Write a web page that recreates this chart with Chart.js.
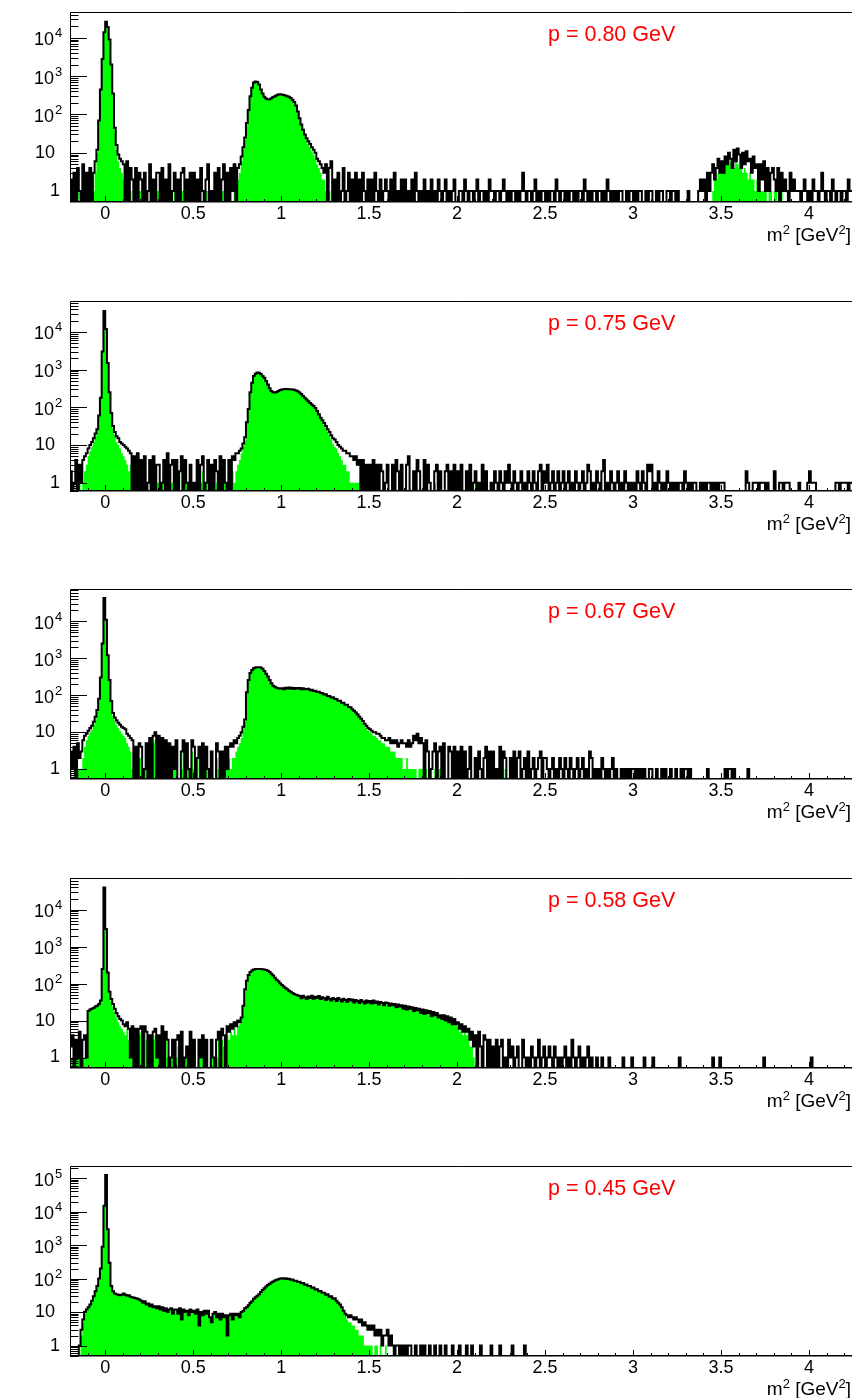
<!DOCTYPE html>
<html>
<head>
<meta charset="utf-8">
<title>m2 spectra</title>
<script src="https://cdn.jsdelivr.net/npm/chart.js@4.4.1/dist/chart.umd.min.js"></script>
<style>
  html, body { margin: 0; padding: 0; background: #fff; overflow: hidden; }
  #wrap { position: relative; width: 852px; height: 1398px; overflow: hidden; background: #fff; }
  .pad { position: absolute; left: 0; width: 853px; height: 288px; }
  .pad canvas { display: block; }
</style>
</head>
<body>
<div id="wrap"></div>
<script>
// all histograms share one binning: 445 bins of 0.01 GeV^2 starting at -0.2
const binLow = -0.2;
const binWidth = 0.01;
const nBins = 445;

const momentumLabels = ['p = 0.80 GeV', 'p = 0.75 GeV', 'p = 0.67 GeV', 'p = 0.58 GeV', 'p = 0.45 GeV'];
const xTickLabels = ['0', '0.5', '1', '1.5', '2', '2.5', '3', '3.5', '4'];
const yTickPowers = [0, 1, 2, 3, 4, 5];
const yRangeMin = [0.52, 0.6, 0.54, 0.52, 0.49];
const yRangeMax = [47000, 66000, 75000, 72000, 230000];

// counts per bin, all tracks (black outline); missing trailing bins are empty
const allP080 = [
  2,0,3,0,4,1,0,5,0,3,
  0,4,0,3,6,12,70,450,2800,14000,
  26000,19000,9000,2000,350,45,16,9,7,6,
  5,0,6,0,4,2,0,4,0,3,
  2,0,3,0,1,5,0,2,0,3,
  3,0,4,0,2,0,5,0,1,3,
  0,2,0,3,4,0,2,0,3,0,
  3,0,2,0,4,1,0,2,5,0,
  1,0,3,0,4,0,2,5,0,3,
  0,4,1,5,0,4,5,8,14,25,
  60,130,300,500,680,720,700,600,450,350,
  290,260,250,250,265,285,300,315,330,335,
  330,320,310,300,290,270,240,210,170,120,
  80,55,40,30,24,20,17,14,12,10,
  7,6,5,4,3,5,0,4,6,0,
  2,0,3,0,1,4,0,1,3,0,
  2,0,3,0,2,0,3,1,0,2,
  0,2,0,3,1,0,2,0,1,2,
  1,0,2,0,3,0,1,0,2,0,
  2,0,1,0,2,0,3,1,0,1,
  0,2,0,1,0,2,0,1,0,2,
  1,0,1,2,0,1,0,1,2,0,
  0,1,1,0,2,1,0,1,1,0,
  1,2,0,1,1,0,1,0,2,1,
  1,0,1,1,0,1,2,1,0,1,
  0,1,1,0,1,0,1,3,1,0,
  1,1,0,1,2,0,1,0,1,1,
  0,1,0,1,1,0,2,1,0,1,
  1,0,1,0,1,1,0,1,0,1,
  1,0,2,1,0,1,0,1,1,0,
  1,1,0,1,0,2,1,0,1,0,
  1,0,1,1,0,0,1,0,1,1,
  0,1,0,1,1,0,0,1,0,1,
  1,0,0,1,0,1,1,0,0,1,
  1,0,1,1,0,1,0,0,0,0,
  0,1,0,0,0,0,0,1,2,1,
  2,0,3,1,3,5,2,4,7,3,
  6,3,8,5,10,7,4,12,6,13,
  9,4,10,5,11,6,7,3,8,4,
  5,1,5,2,6,1,4,1,3,4,
  2,1,4,0,3,1,2,1,0,3,
  1,2,1,1,1,0,1,2,1,0,
  1,0,2,1,1,0,1,3,1,0,
  1,1,0,2,1,0,1,1,0,1,
  1,0,2,1,1
];
// counts per bin, selected tracks (green fill)
const selP080 = [
  1,0,1,0,1,0,0,2,0,1,
  0,1,0,1,3,10,65,440,2800,14000,
  26000,19000,9000,2000,340,40,12,6,4,3,
  2,0,2,0,1,0,0,1,0,1,
  1,0,1,0,0,1,0,1,0,1,
  1,0,1,0,1,0,1,0,0,1,
  0,1,0,1,1,0,1,0,1,0,
  1,0,1,0,1,0,0,1,1,0,
  0,0,1,0,1,0,1,1,0,1,
  0,1,0,1,0,2,3,6,12,22,
  55,125,295,495,680,720,700,600,450,350,
  290,260,250,250,265,285,300,315,330,335,
  330,320,310,300,290,270,240,210,170,120,
  78,52,37,27,21,17,14,11,9,7,
  5,4,3,2,2,1,0,1,0,0,
  0,0,1,0,0,0,0,0,0,0,
  0,0,0,0,0,0,0,0,0,0,
  0,0,0,0,0,0,0,0,0,0,
  0,0,0,0,0,0,0,0,0,0,
  0,0,0,0,0,0,0,0,0,0,
  0,0,0,0,0,0,0,0,0,0,
  0,0,0,0,0,0,0,0,0,0,
  0,0,0,0,0,0,0,0,0,0,
  0,0,0,0,0,0,0,0,0,0,
  0,0,0,0,0,0,0,0,0,0,
  0,0,0,0,0,0,0,0,0,0,
  0,0,0,0,0,0,0,0,0,0,
  0,0,0,0,0,0,0,0,0,0,
  0,0,0,0,0,0,0,0,0,0,
  0,0,0,0,0,0,0,0,0,0,
  0,0,0,0,0,0,0,0,0,0,
  0,0,0,0,0,0,0,0,0,0,
  0,0,0,0,0,0,0,0,0,0,
  0,0,0,0,0,0,0,0,0,0,
  0,0,0,0,0,0,0,0,0,0,
  0,0,0,0,0,0,0,0,0,0,
  0,0,0,0,0,1,2,2,3,3,
  4,3,6,5,7,6,4,4,6,5,
  4,4,3,4,3,2,3,2,2,1,
  2,1,1,1,1,1,0,1,1,0,
  1,1,0,0,1
];

const allP075 = [
  2,0,1,4,0,3,1,4,5,6,
  8,10,12,15,20,26,60,180,3000,36000,
  12000,1500,250,70,32,22,17,15,12,11,
  10,9,8,7,6,0,5,0,6,0,
  4,0,5,0,1,4,0,5,0,3,
  3,0,1,4,0,6,0,3,4,0,
  4,0,2,5,0,4,1,0,3,0,
  1,0,4,0,3,5,0,1,4,0,
  3,0,4,2,0,5,0,4,1,0,
  4,0,5,4,6,6,7,8,11,16,
  40,90,250,450,680,780,830,820,760,680,
  610,500,400,320,270,250,245,255,270,285,
  295,300,305,305,300,300,295,290,280,265,
  245,225,200,180,160,145,130,118,108,95,
  80,65,53,45,38,32,26,22,18,15,
  14,12,10,9,8,7,7,6,6,5,
  5,4,5,3,4,0,4,0,3,0,
  3,0,4,0,3,0,3,2,0,1,
  3,0,0,3,0,4,2,0,3,0,
  0,3,5,0,0,2,0,4,2,0,
  0,4,0,3,1,0,0,2,3,0,
  2,0,0,2,3,0,2,0,3,0,
  2,0,3,0,0,2,0,3,0,1,
  2,0,1,0,3,0,2,0,0,1,
  0,2,1,0,2,1,0,2,1,3,
  1,0,2,1,0,1,2,0,1,0,
  2,1,0,2,1,0,2,3,0,2,
  1,3,0,1,2,0,1,2,0,1,
  2,0,1,2,0,1,0,2,1,0,
  1,2,0,1,3,2,0,1,0,2,
  1,0,2,4,0,1,0,2,1,0,
  1,2,0,1,0,2,1,0,1,0,
  1,0,2,1,0,2,1,0,3,2,
  3,0,1,0,2,1,0,1,0,2,
  1,0,1,0,1,0,1,1,0,2,
  1,0,1,0,1,1,0,0,1,0,
  1,0,1,1,0,1,0,1,0,1,
  1,1,0,0,0,0,0,0,0,0,
  0,0,0,0,2,1,0,0,1,1,
  1,0,1,1,1,0,1,0,0,0,
  2,0,0,1,1,0,1,1,1,0,
  0,0,0,0,1,0,0,0,0,1,
  2,1,1,1,0,0,0,0,0,0,
  0,0,0,0,0,1,1,0,1,1,
  1,1,0,1,1
];
const selP075 = [
  0,0,0,1,0,1,0,1,2,3,
  5,7,9,12,17,24,58,175,3000,36000,
  12000,1500,245,65,28,18,12,10,8,6,
  5,4,3,2,3,0,2,0,2,0,
  1,0,2,0,0,1,0,2,0,1,
  1,0,1,1,0,2,0,1,1,0,
  1,0,0,2,0,1,1,0,1,0,
  1,0,1,0,1,2,0,1,1,0,
  1,0,2,1,0,1,0,1,1,0,
  1,0,2,1,2,3,4,6,9,13,
  38,88,250,450,680,780,830,820,760,680,
  610,500,400,320,270,250,245,255,270,285,
  295,300,305,305,300,300,295,290,280,265,
  245,225,200,180,160,145,130,118,108,95,
  78,63,50,42,34,28,22,18,14,11,
  9,8,6,5,4,3,3,2,2,1,
  1,1,1,1,1,0,1,0,0,0,
  1,0,0,0,0,0,0,0,0,0,
  0,0,0,0,0,0,0,0,0,0,
  0,0,0,0,0,1,0,0,0,0,
  0,0,0,0,0,0,0,1,0,0,
  0,0,0,0,0,0,1,0,0,0,
  0,0,0,0,0,0,0,0,0,0,
  1
];

const allP067 = [
  3,1,4,0,5,2,3,6,8,9,
  11,13,15,19,26,40,80,300,2500,43000,
  11000,1200,260,70,33,25,21,18,16,14,
  13,12,9,8,7,6,0,4,0,5,
  4,0,1,5,0,7,0,8,10,0,
  8,0,7,0,6,0,5,0,4,1,
  6,0,0,3,6,0,5,1,0,6,
  4,0,2,4,0,5,0,4,1,0,
  3,0,0,5,3,0,3,0,4,1,
  4,5,4,6,5,7,8,10,14,22,
  120,260,400,480,540,560,570,570,560,520,
  450,380,320,260,210,180,170,160,155,152,
  155,146,160,152,163,150,160,148,158,152,
  157,146,154,144,147,150,137,140,131,132,
  122,124,114,113,104,107,95,96,87,88,
  80,79,71,71,63,63,55,55,48,47,
  42,38,34,30,26,23,20,17,15,13,
  12,11,10,10,9,9,8,7,7,6,
  6,7,5,6,5,6,4,5,6,5,
  5,4,6,4,5,8,6,9,5,7,
  5,0,6,3,0,1,3,5,0,3,
  4,0,5,0,0,4,3,0,4,0,
  3,0,4,0,3,0,1,4,0,0,
  2,0,3,1,0,2,4,0,3,0,
  3,0,1,0,4,0,3,2,0,0,
  2,0,3,0,2,3,0,1,2,0,
  3,0,1,2,0,1,2,3,0,2,
  2,1,0,1,2,0,1,0,2,1,
  0,2,1,0,2,1,0,1,2,0,
  1,2,0,1,0,3,2,0,1,0,
  1,0,2,1,0,1,0,1,2,0,
  1,0,0,1,0,1,0,1,0,1,
  1,0,1,0,1,0,1,0,0,1,
  1,0,0,1,0,0,1,0,1,0,
  0,1,0,0,1,0,0,1,0,1,
  1,0,1,0,0,0,0,0,0,0,
  0,0,1,0,0,0,0,0,0,0,
  0,0,1,0,1,1,0,1,0,0,
  0,0,0,0,0,1
];
const selP067 = [
  1,0,1,0,1,1,1,2,4,6,
  8,10,12,16,22,36,75,290,2500,43000,
  11000,1200,255,65,28,20,16,13,11,9,
  8,7,5,4,3,1,0,1,0,2,
  2,0,1,3,0,4,0,5,6,0,
  4,0,4,0,3,0,3,0,1,1,
  3,0,0,1,3,0,2,1,0,3,
  1,0,0,2,0,2,0,2,1,0,
  1,0,0,2,1,0,1,0,1,1,
  2,1,2,2,3,4,5,7,10,19,
  120,260,400,480,540,560,570,570,560,520,
  450,380,320,260,210,180,170,160,155,152,
  155,146,160,152,163,150,160,148,158,152,
  157,146,154,144,147,150,137,140,131,132,
  122,124,114,113,104,107,95,96,87,88,
  80,79,71,71,63,63,55,55,48,47,
  40,36,32,28,24,21,18,15,13,11,
  10,9,8,8,7,6,6,5,5,4,
  4,4,3,3,3,2,2,2,2,1,
  1,2,1,1,1,1,1,0,1,1,
  1,0,1,0,0,0,0,1,0,1,
  1,0,0,0,0,0,0,0,0,0,
  0,0,0,0,0,0,0,0,0,0,
  0,0,0,0,0,0,0,0,0,0,
  0,0,0,0,0,0,0,1
];

const allP058 = [
  2,4,0,3,1,5,0,3,4,1,
  18,20,21,22,24,25,28,35,250,40000,
  3000,200,60,38,28,21,16,13,11,10,
  8,7,9,6,1,7,0,6,0,6,
  7,0,7,5,0,4,0,5,6,1,
  4,0,7,0,5,3,0,1,3,0,
  3,4,0,5,0,1,2,0,5,0,
  3,0,0,3,1,4,0,3,0,0,
  3,1,0,3,5,0,6,4,0,7,
  5,8,6,9,7,10,9,12,25,70,
  120,170,205,225,240,248,250,250,248,245,
  240,232,222,205,185,165,145,128,115,102,
  92,84,76,70,64,60,56,52,50,48,
  46,40,47,43,38,45,41,47,39,44,
  41,46,38,43,40,36,44,39,35,41,
  38,34,41,37,33,39,36,32,38,35,
  37,31,36,34,30,36,33,29,35,31,
  34,29,35,30,33,27,32,30,26,31,
  30,25,29,26,28,23,27,24,26,21,
  25,20,24,21,23,18,22,19,21,16,
  20,15,19,16,18,13,17,14,16,12,
  14,11,14,10,13,9,12,8,11,8,
  9,6,8,5,7,5,6,3,5,2,
  4,0,5,2,0,4,3,0,3,0,
  2,0,3,0,2,3,0,1,0,3,
  1,2,0,1,2,0,0,3,1,0,
  1,0,2,1,0,1,3,0,1,2,
  0,1,2,1,0,2,1,0,1,0,
  1,2,0,1,0,3,1,0,1,2,
  0,1,0,1,2,0,1,0,0,1,
  0,0,1,0,0,0,1,0,0,0,
  0,0,0,0,1,0,0,0,0,1,
  0,0,0,0,0,0,1,0,0,0,
  0,1,0,0,0,0,0,0,0,0,
  0,0,0,0,0,0,1,0,0,0,
  0,0,0,0,0,0,0,0,0,0,
  0,0,0,0,0,1,0,0,0,1,
  0,0,0,0,0,0,0,0,0,0,
  0,0,0,0,0,0,0,0,0,0,
  0,0,0,0,1,0,0,0,0,0,
  0,0,0,0,0,0,0,0,0,0,
  0,0,0,0,0,0,0,0,0,0,
  0,1
];
const selP058 = [
  1,1,0,1,1,2,0,1,1,1,
  18,20,21,22,24,25,28,35,250,40000,
  3000,200,58,34,24,17,12,9,7,6,
  5,4,6,3,1,5,0,4,0,4,
  5,0,5,3,0,2,0,3,4,1,
  2,0,4,0,3,1,0,1,1,0,
  1,2,0,3,0,1,1,0,3,0,
  1,0,0,1,1,2,0,1,0,0,
  1,1,0,1,3,0,3,2,0,4,
  3,5,4,6,4,7,8,11,24,68,
  120,170,205,225,240,248,250,250,248,245,
  240,232,222,205,185,165,145,128,115,102,
  92,84,76,70,64,60,56,52,50,48,
  46,40,47,43,38,45,41,47,39,44,
  41,46,38,43,40,36,44,39,35,41,
  38,34,41,37,33,39,36,32,38,35,
  37,31,36,34,30,36,33,29,35,31,
  34,29,35,30,33,27,32,30,26,31,
  30,25,29,26,28,23,27,24,26,21,
  25,20,24,21,23,18,22,19,21,16,
  20,15,19,16,18,13,17,14,16,12,
  14,11,14,10,13,9,12,8,11,8,
  7,5,7,4,6,4,5,2,2,1
];

const allP045 = [
  0,0,0,0,0,1,3,6,10,12,
  14,17,22,30,42,60,100,200,900,15000,
  123000,3000,300,60,42,36,34,33,32,33,
  36,33,31,32,29,28,27,26,25,24,
  22,19,21,17,18,15,17,14,15,13,
  15,12,14,11,13,10,12,13,9,12,
  12,9,13,6,12,10,11,8,12,10,
  11,9,12,4,10,8,11,9,11,7,
  5,9,10,7,9,6,9,7,8,2,
  8,9,6,9,8,9,7,10,11,13,
  14,16,19,21,25,28,31,34,40,46,
  52,58,64,70,76,82,88,92,96,100,
  103,99,102,97,99,93,94,86,87,80,
  80,73,74,66,67,60,60,53,54,47,
  48,42,43,38,38,33,34,29,30,25,
  26,22,19,17,14,11,9,8,7,8,
  7,6,7,6,5,6,4,5,4,3,
  4,3,4,2,3,2,3,1,2,2,
  3,1,2,1,0,1,1,0,1,0,
  1,0,1,1,0,0,1,0,0,1,
  0,1,0,0,1,0,0,1,0,0,
  1,0,0,1,0,0,0,1,0,0,
  0,1,0,0,0,1,0,0,1,0,
  0,0,0,1,0,0,0,0,0,1,
  0,0,0,0,1,0,0,0,0,0,
  0,1,0,0,0,0,0,0,1,0
];
const selP045 = [
  0,0,0,0,0,0,2,5,9,11,
  13,16,21,29,41,58,98,198,900,15000,
  123000,3000,298,58,40,34,32,31,30,31,
  36,33,31,32,29,28,27,26,25,24,
  22,19,21,17,18,15,17,14,15,13,
  15,12,14,11,13,10,12,13,9,12,
  12,9,13,6,12,10,11,8,12,10,
  11,9,12,4,10,8,11,9,11,7,
  5,9,10,7,9,6,9,7,8,2,
  8,9,6,9,8,9,7,10,11,13,
  14,16,19,21,25,28,31,34,40,46,
  52,58,64,70,76,82,88,92,96,100,
  103,99,102,97,99,93,94,86,87,80,
  80,73,74,66,67,60,60,53,54,47,
  48,42,43,38,38,33,34,29,30,25,
  25,21,18,16,13,10,8,6,5,5,
  4,4,3,3,2,2,2,1,1,1,
  1,1,0,1,1,0,1,0,0,1
];

const allCounts = [allP080, allP075, allP067, allP058, allP045];
const selCounts = [selP080, selP075, selP067, selP058, selP045];

const FONT = '"Liberation Sans", Arial, Helvetica, sans-serif';
const LABEL_FONT = '18px ' + FONT;
const SUP_FONT = '13px ' + FONT;
const TITLE_FONT = '19px ' + FONT;

// step points at the bin edges; empty bins sit on the axis floor
function histPoints(counts, floor) {
  const pts = [];
  for (let i = 0; i < nBins; i++) {
    const c = i < counts.length ? counts[i] : 0;
    pts.push({ x: binLow + i * binWidth, y: Math.max(c, floor) });
  }
  pts.push({ x: binLow + nBins * binWidth, y: pts[nBins - 1].y });
  return pts;
}

// ROOT-like frame: inward ticks, log labels with exponents, axis title and momentum tag
const rootAxes = {
  id: 'rootAxes',
  afterDatasetsDraw(chart, args, opts) {
    const ctx = chart.ctx;
    const a = chart.chartArea;
    const xs = chart.scales.x;
    const ys = chart.scales.y;
    ctx.save();
    ctx.strokeStyle = '#000';
    ctx.lineWidth = 1;
    ctx.beginPath();
    ctx.moveTo(a.left + 0.5, a.bottom);
    ctx.lineTo(a.left + 0.5, a.top + 0.5);
    ctx.lineTo(a.right, a.top + 0.5);
    ctx.stroke();
    ctx.lineWidth = 1.5;
    ctx.beginPath();
    ctx.moveTo(a.left, a.bottom - 0.25);
    ctx.lineTo(a.right, a.bottom - 0.25);
    ctx.stroke();

    ctx.lineWidth = 1;
    ctx.beginPath();
    for (let k = -1; k <= 42; k++) {
      const px = Math.round(xs.getPixelForValue(k / 10)) + 0.5;
      const len = k % 5 === 0 ? 6 : 3;
      ctx.moveTo(px, a.bottom);
      ctx.lineTo(px, a.bottom - len);
    }
    const d0 = Math.floor(Math.log10(ys.min));
    const d1 = Math.ceil(Math.log10(ys.max));
    for (let d = d0; d <= d1; d++) {
      for (let m = 1; m <= 9; m++) {
        const v = m * Math.pow(10, d);
        if (v < ys.min || v > ys.max) continue;
        const py = Math.round(ys.getPixelForValue(v)) + 0.5;
        ctx.moveTo(a.left, py);
        ctx.lineTo(a.left + (m === 1 ? 17 : 8.5), py);
      }
    }
    ctx.stroke();

    ctx.fillStyle = '#000';
    ctx.textBaseline = 'middle';
    ctx.font = LABEL_FONT;
    ctx.textAlign = 'center';
    xTickLabels.forEach(t => {
      ctx.fillText(t, xs.getPixelForValue(parseFloat(t)), a.bottom + 12);
    });

    yTickPowers.forEach(p => {
      const v = Math.pow(10, p);
      if (v > ys.max) return;
      const py = ys.getPixelForValue(v);
      ctx.font = LABEL_FONT;
      ctx.textAlign = 'right';
      if (p === 0) {
        ctx.fillText('1', 60, py);
      } else if (p === 1) {
        ctx.fillText('10', 55, py);
      } else {
        ctx.fillText('10', 54, py + 2.5);
        ctx.font = SUP_FONT;
        ctx.textAlign = 'left';
        ctx.fillText(String(p), 55, py - 4);
      }
    });

    // axis title  m^2 [GeV^2], right aligned
    const parts = [['m', false], ['2', true], [' [GeV', false], ['2', true], [']', false]];
    let total = 0;
    parts.forEach(([s, sup]) => {
      ctx.font = sup ? SUP_FONT : TITLE_FONT;
      total += ctx.measureText(s).width;
    });
    let tx = 851 - total;
    ctx.textAlign = 'left';
    parts.forEach(([s, sup]) => {
      ctx.font = sup ? SUP_FONT : TITLE_FONT;
      ctx.fillText(s, tx, a.bottom + (sup ? 28 : 34));
      tx += ctx.measureText(s).width;
    });

    ctx.fillStyle = '#ff0000';
    ctx.font = '21.5px ' + FONT;
    ctx.textBaseline = 'alphabetic';
    ctx.fillText(opts.label, 548, a.top + 29);
    ctx.restore();
  }
};

const wrap = document.getElementById('wrap');
momentumLabels.forEach((label, p) => {
  const pad = document.createElement('div');
  pad.className = 'pad';
  pad.style.top = Math.round(288.5 * p) + 'px';
  const canvas = document.createElement('canvas');
  canvas.width = 853;
  canvas.height = 288;
  pad.appendChild(canvas);
  wrap.appendChild(pad);

  const floor = yRangeMin[p];
  new Chart(canvas.getContext('2d'), {
    type: 'line',
    data: {
      datasets: [{
        label: 'all',
        data: histPoints(allCounts[p], floor),
        stepped: true,
        fill: false,
        borderColor: '#000000',
        borderWidth: 2,
        pointRadius: 0,
        order: 0
      }, {
        label: 'selected',
        data: histPoints(selCounts[p], floor),
        stepped: true,
        fill: 'start',
        backgroundColor: '#00ff00',
        borderColor: 'rgba(0,0,0,0)',
        borderWidth: 0,
        pointRadius: 0,
        order: 1
      }]
    },
    options: {
      responsive: false,
      animation: false,
      devicePixelRatio: 1,
      events: [],
      parsing: false,
      layout: { padding: { left: 70, top: 12, right: 0, bottom: 86 } },
      scales: {
        x: { type: 'linear', min: -0.2, max: 4.25, display: false },
        y: { type: 'logarithmic', min: yRangeMin[p], max: yRangeMax[p], display: false }
      },
      plugins: {
        legend: { display: false },
        tooltip: { enabled: false },
        rootAxes: { label: label }
      }
    },
    plugins: [rootAxes]
  });
});
</script>
</body>
</html>
